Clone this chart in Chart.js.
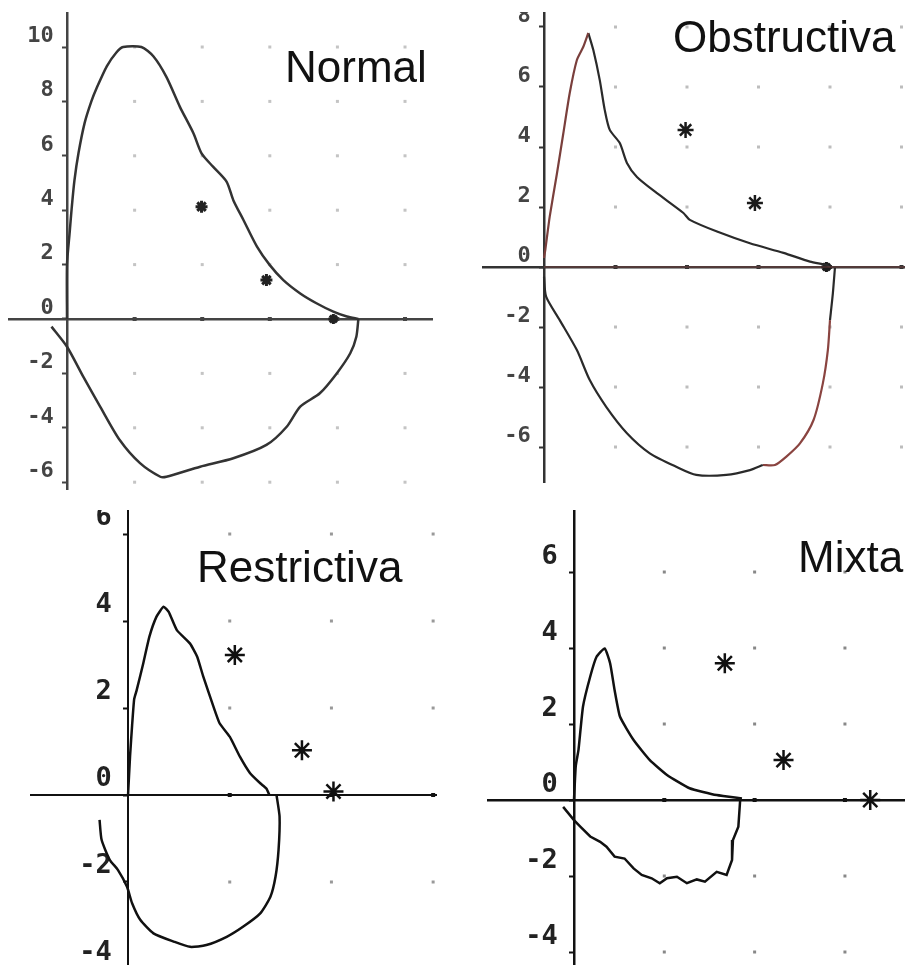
<!DOCTYPE html>
<html>
<head>
<meta charset="utf-8">
<script src="https://cdn.jsdelivr.net/npm/chart.js@4.4.0/dist/chart.umd.min.js"></script>
<style>
  html, body { margin: 0; padding: 0; background: #fff; overflow: hidden; width: 905px; height: 965px; }
  canvas { position: absolute; }
  .title { position: absolute; font-family: "Liberation Sans", Arial, sans-serif; font-size: 44px; line-height: 1; color: #111; white-space: nowrap; }
</style>
</head>
<body>
<canvas id="normal" style="left:8px;top:12px" width="425" height="478"></canvas>
<canvas id="obst" style="left:482px;top:12px" width="423" height="471"></canvas>
<canvas id="rest" style="left:30px;top:510px" width="407" height="468"></canvas>
<canvas id="mix" style="left:487px;top:510px" width="418" height="455"></canvas>
<div class="title" style="left:285px;top:45px">Normal</div>
<div class="title" style="left:673px;top:15px">Obstructiva</div>
<div class="title" style="left:197px;top:545px">Restrictiva</div>
<div class="title" style="left:798px;top:535px">Mixta</div>
<script>
// Normal
const normalYTicks = [-6, -4, -2, 0, 2, 4, 6, 8, 10];
const normalXGrid = [1, 2, 3, 4, 5];
const normalExp = [[0,0],[0,2],[0.04,3.2],[0.07,4.1],[0.11,5.1],[0.17,6.1],[0.26,7.2],[0.36,8.0],[0.44,8.5],[0.59,9.3],[0.73,9.8],[0.83,10],[1.1,10],[1.28,9.65],[1.47,8.9],[1.67,7.8],[1.87,6.83],[1.99,6.09],[2.16,5.6],[2.36,5.05],[2.46,4.37],[2.61,3.64],[2.81,2.66],[3.0,1.98],[3.2,1.43],[3.45,0.94],[3.69,0.58],[3.94,0.27],[4.14,0.09],[4.31,0]];
const normalIns = [[4.31,0],[4.28,-0.65],[4.19,-1.26],[3.99,-2.0],[3.74,-2.73],[3.45,-3.22],[3.25,-3.96],[2.95,-4.63],[2.46,-5.12],[1.97,-5.43],[1.47,-5.8],[1.38,-5.8],[1.08,-5.3],[0.78,-4.45],[0.49,-3.22],[0.24,-2.12],[0,-1.02],[-0.23,-0.28]];
const normalStars = [[1.99,4.13],[2.95,1.43]];
const normalEnd = [[3.94,0]];

// Obstructiva
const obstYTicks = [-6, -4, -2, 0, 2, 4, 6, 8];
const obstXGrid = [1, 2, 3, 4, 5];
const obstRise = [[0,0.3],[0.02,0.6],[0.08,1.68],[0.18,3.1],[0.27,4.45],[0.36,5.8],[0.46,6.9],[0.55,7.34],[0.62,7.8]];
const obstFall = [[0.62,7.8],[0.69,7.23],[0.78,6.23],[0.85,5.23],[0.92,4.57],[1.06,4.13],[1.16,3.47],[1.3,3.0],[1.58,2.46],[1.95,1.8],[2.04,1.57],[2.42,1.18],[2.88,0.79],[3.35,0.47],[3.72,0.18],[3.95,0.07],[4.0,0]];
const obstInsLeft = [[0,-0.32],[0.03,-0.99],[0.22,-1.77],[0.46,-2.77],[0.64,-3.77],[0.87,-4.66],[1.16,-5.54],[1.48,-6.21],[1.85,-6.66],[2.13,-6.93],[2.55,-6.93],[2.88,-6.77],[3.06,-6.6]];
const obstInsRight = [[3.06,-6.6],[3.23,-6.6],[3.39,-6.32],[3.58,-5.88],[3.77,-5.1],[3.9,-3.88],[3.97,-2.77],[4.0,-1.77]];
const obstInsEnd = [[4.0,-1.77],[4.04,-0.88],[4.07,0]];
const obstBase = [[0,0],[5.05,0]];
const obstStars = [[1.98,4.57],[2.95,2.13]];
const obstEnd = [[3.95,0]];

// Restrictiva
const restYTicks = [-4, -2, 0, 2, 4, 6];
const restXGrid = [1, 2, 3];
const restExp = [[0,0],[0.02,0.9],[0.04,1.6],[0.06,2.2],[0.085,2.41],[0.15,3.03],[0.21,3.64],[0.28,4.1],[0.35,4.33],[0.4,4.21],[0.48,3.79],[0.61,3.48],[0.68,3.18],[0.74,2.72],[0.84,2.03],[0.9,1.65],[1.0,1.34],[1.1,0.88],[1.2,0.5],[1.3,0.27],[1.36,0.15],[1.39,0]];
const restIns = [[1.46,0],[1.49,-0.5],[1.48,-1.26],[1.45,-1.88],[1.4,-2.34],[1.3,-2.72],[1.13,-3.03],[0.97,-3.26],[0.77,-3.45],[0.61,-3.49],[0.45,-3.37],[0.25,-3.18],[0.12,-2.87],[0.04,-2.49],[-0.01,-2.11],[-0.1,-1.72],[-0.18,-1.49],[-0.26,-1.03],[-0.28,-0.57]];
const restStars = [[1.05,3.22],[1.71,1.03],[2.02,0.08]];

// Mixta
const mixYTicks = [-4, -2, 0, 2, 4, 6];
const mixXGrid = [1, 2, 3];
const mixExp = [[0,0],[0.02,0.9],[0.05,1.32],[0.1,2.46],[0.18,3.25],[0.25,3.77],[0.34,3.99],[0.4,3.6],[0.45,2.89],[0.51,2.19],[0.66,1.58],[0.84,1.05],[1.03,0.66],[1.28,0.31],[1.58,0.13],[1.86,0.04]];
const mixIns = [[1.84,0],[1.82,-0.7],[1.76,-1.05],[1.75,-1.58],[1.69,-1.97],[1.58,-1.89],[1.45,-2.15],[1.36,-2.09],[1.25,-2.19],[1.14,-2.02],[1.03,-2.06],[0.95,-2.19],[0.86,-2.06],[0.75,-1.97],[0.66,-1.8],[0.56,-1.54],[0.45,-1.49],[0.36,-1.23],[0.29,-1.1],[0.18,-0.96],[0.07,-0.7],[0,-0.53],[-0.12,-0.18]];
const mixStars = [[1.67,3.6],[2.32,1.05],[3.28,0]];

const xy = arr => arr.map(([x, y]) => ({ x, y }));

function curve(arr, color, width, tension) {
  return { data: xy(arr), showLine: true, borderColor: color, borderWidth: width,
           pointRadius: 0, tension: tension, fill: false };
}
function stars(arr, color, r, w) {
  return { data: xy(arr), showLine: false, pointStyle: 'star', pointRadius: r,
           pointBorderColor: color, pointBorderWidth: w, pointBackgroundColor: color };
}

// dots at every grid crossing
function gridDots(xs, ys, color, size, axisColor) {
  return {
    id: 'gridDots',
    beforeDatasetsDraw(chart) {
      const { ctx, scales: { x, y } } = chart;
      ctx.save();
      xs.forEach(vx => ys.forEach(vy => {
        const px = x.getPixelForValue(vx), py = y.getPixelForValue(vy);
        const s = vy === 0 ? size + 1 : size;
        ctx.fillStyle = vy === 0 ? axisColor : color;
        ctx.fillRect(px - s / 2, py - s / 2, s, s);
      }));
      ctx.restore();
    }
  };
}

function noPad(s) { s.paddingTop = 0; s.paddingBottom = 0; s.paddingLeft = 0; s.paddingRight = 0; }

function panel(id, c) {
  return new Chart(document.getElementById(id), {
    type: 'scatter',
    data: { datasets: c.datasets },
    options: {
      responsive: false, animation: false, events: [], devicePixelRatio: 1,
      layout: { padding: 0, autoPadding: false },
      plugins: { legend: { display: false }, tooltip: { enabled: false } },
      scales: {
        x: {
          type: 'linear', min: c.xMin, max: c.xMax, position: { y: 0 },
          ticks: { display: false },
          grid: { color: 'rgba(0,0,0,0)', drawTicks: false },
          border: { color: c.axisColor, width: c.axisWidth },
          afterFit: noPad
        },
        y: {
          type: 'linear', min: c.yMin, max: c.yMax, position: { x: 0 },
          afterBuildTicks: s => { s.ticks = c.yTicks.map(v => ({ value: v })); },
          afterFit: noPad,
          // labels sit right against a centred axis, a trailing space gives the gap
          ticks: { font: c.font, color: c.labelColor, labelOffset: c.labelOffset,
                   autoSkip: false, callback: v => String(v) + ' ' },
          grid: { color: 'rgba(0,0,0,0)', tickColor: c.axisColor, tickLength: 4, tickWidth: 2 },
          border: { color: c.axisColor, width: c.axisWidth }
        }
      }
    },
    plugins: [gridDots(c.xGrid, c.yTicks, c.dotColor, c.dotSize, c.axisColor)]
  });
}

const monoBold = { family: '"DejaVu Sans Mono", monospace', size: 22, weight: 'bold' };
const monoBig = { family: '"DejaVu Sans Mono", monospace', size: 27, weight: 'bold' };

panel('normal', {
  xMin: -0.873, xMax: 5.414, yMin: -6.287, yMax: 11.287, yTicks: normalYTicks, xGrid: normalXGrid,
  axisColor: '#444', axisWidth: 2.5, font: monoBold, labelColor: '#444', labelOffset: -11,
  dotColor: '#c4c4c4', dotSize: 3,
  datasets: [
    curve(normalExp, '#333', 2.5, 0.25),
    curve(normalIns, '#333', 2.5, 0.25),
    stars(normalStars, '#222', 6, 3),
    stars(normalEnd, '#222', 5, 3)
  ]
});

panel('obst', {
  xMin: -0.867, xMax: 5.049, yMin: -7.2, yMax: 8.5, yTicks: obstYTicks, xGrid: obstXGrid,
  axisColor: '#333', axisWidth: 2.5, font: monoBold, labelColor: '#444', labelOffset: -11,
  dotColor: '#bdbdbd', dotSize: 3,
  datasets: [
    curve(obstBase, 'rgba(176,82,76,0.35)', 1.5, 0),
    curve(obstRise, '#7a3f3c', 2.2, 0.2),
    curve(obstFall, '#2a2a2a', 2.2, 0.25),
    curve(obstInsLeft, '#2a2a2a', 2.2, 0.25),
    curve(obstInsRight, '#8a4440', 2.2, 0.25),
    curve(obstInsEnd, '#2a2a2a', 2.2, 0.25),
    stars(obstStars, '#1a1a1a', 8, 2.5),
    stars(obstEnd, '#1a1a1a', 5, 3)
  ]
});

panel('rest', {
  xMin: -0.964, xMax: 3.038, yMin: -4.207, yMax: 6.552, yTicks: restYTicks, xGrid: restXGrid,
  axisColor: '#111', axisWidth: 2, font: monoBig, labelColor: '#222', labelOffset: -16,
  dotColor: '#999', dotSize: 3,
  datasets: [
    curve(restExp, '#111', 2.5, 0.15),
    curve(restIns, '#111', 2.5, 0.2),
    stars(restStars, '#111', 10, 2.5)
  ]
});

panel('mix', {
  xMin: -0.963, xMax: 3.665, yMin: -4.342, yMax: 7.632, yTicks: mixYTicks, xGrid: mixXGrid,
  axisColor: '#111', axisWidth: 2.5, font: monoBig, labelColor: '#222', labelOffset: -15,
  dotColor: '#888', dotSize: 3,
  datasets: [
    curve(mixExp, '#111', 2.5, 0.15),
    curve(mixIns, '#111', 2.5, 0),
    stars(mixStars, '#111', 10, 2.5)
  ]
});
</script>
</body>
</html>
